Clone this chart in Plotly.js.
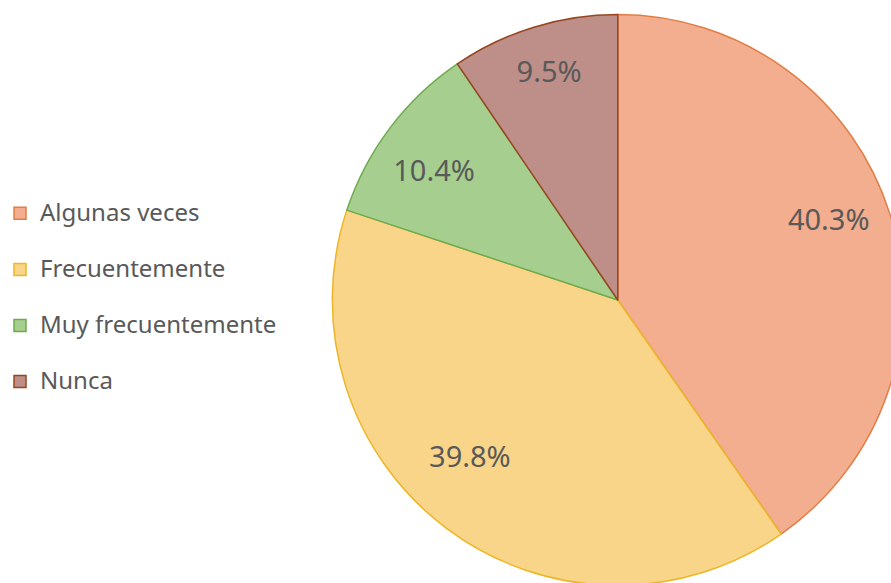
<!DOCTYPE html>
<html>
<head>
<meta charset="utf-8">
<script src="https://cdn.plot.ly/plotly-3.0.1.min.js"></script>
<style>
html, body { margin: 0; padding: 0; overflow: hidden; background: #ffffff; }
#chart { width: 1000px; height: 620px; }
</style>
</head>
<body>
<div id="chart"></div>
<script>
const categories = ["Algunas veces", "Frecuentemente", "Muy frecuentemente", "Nunca"];
const values = [40.3, 39.8, 10.4, 9.5];
const fillColors = ["#F2AE8E", "#F9D589", "#A6CF8F", "#BD8F88"];
const lineColors = ["#E27D45", "#EDB626", "#6DAA4F", "#97461E"];

// --- presentation helpers (label placement padding, legend spacing) ---
const NB = "&nbsp;";
function rep(s, n) { return Array(n + 1).join(s); }
// [left pad, right pad, blank lines above, blank lines below] per slice
const labelPad = [[19, 0, 0, 2], [0, 16, 2, 0], [0, 3, 0, 0], [0, 1, 0, 1]];
const texttemplates = labelPad.map(p =>
  rep(NB + "<br>", p[2]) + rep(NB, p[0]) + "%{percent:.1%}" + rep(NB, p[1]) + rep("<br>" + NB, p[3])
);
const legendLabels = categories.map(c => '<span style="font-size:24px">' + c + "</span><br> ");

const trace = {
  type: "pie",
  labels: legendLabels,
  values: values,
  sort: false,
  direction: "clockwise",
  rotation: 0,
  marker: { colors: fillColors, line: { color: lineColors, width: 1.5 } },
  texttemplate: texttemplates,
  textposition: "inside",
  insidetextorientation: "horizontal",
  textfont: { family: "Noto Sans, Open Sans, sans-serif", size: 29, color: "#595959" },
  hoverinfo: "skip",
  domain: { x: [0.331, 0.903], y: [0, 1] }
};

const layout = {
  width: 1000,
  height: 620,
  margin: { l: 0, r: 0, t: 14, b: 34 },
  paper_bgcolor: "#ffffff",
  plot_bgcolor: "#ffffff",
  showlegend: true,
  legend: {
    x: -0.002, y: 0.686, xanchor: "left", yanchor: "top",
    valign: "top",
    font: { family: "Noto Sans, Open Sans, sans-serif", size: 20.4, color: "#595959" },
    bgcolor: "rgba(0,0,0,0)"
  }
};

Plotly.newPlot("chart", [trace], layout, { displayModeBar: false, staticPlot: true });
</script>
</body>
</html>
